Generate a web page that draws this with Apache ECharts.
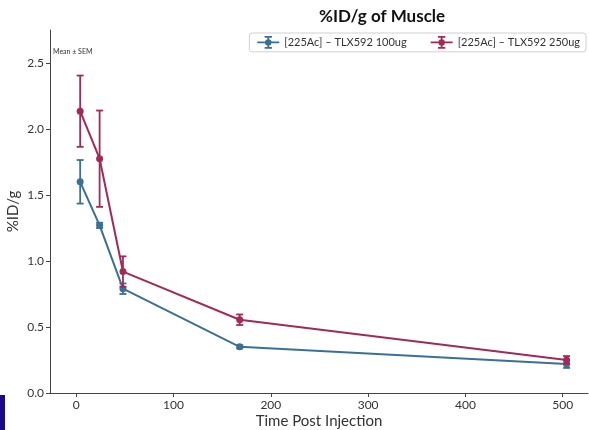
<!DOCTYPE html>
<html>
<head>
<meta charset="utf-8">
<script src="https://cdn.jsdelivr.net/npm/echarts@6/dist/echarts.min.js"></script>
<style>html,body{margin:0;padding:0;background:#fff;}#c{width:589px;height:430px;}</style>
</head>
<body>
<div id="c"></div>
<script>
var timePoints = [4, 24, 48, 168, 504];
var mean100 = [1.60, 1.27, 0.79, 0.35, 0.22];
var sem100 = [0.165, 0.02, 0.04, 0.012, 0.03];
var mean250 = [2.135, 1.775, 0.92, 0.555, 0.25];
var sem250 = [0.27, 0.365, 0.115, 0.04, 0.03];
var xTicks = [0, 100, 200, 300, 400, 500];
var yTicks = [0, 0.5, 1.0, 1.5, 2.0, 2.5];
var seriesNames = ['[225Ac] \u2013 TLX592 100ug', '[225Ac] \u2013 TLX592 250ug'];
var titleText = '%ID/g of Muscle';
var noteText = 'Mean \u00b1 SEM';

var FONT = 'Lato';
var C1 = '#3b7092', C2 = '#a02a58';

function pts(means) { return timePoints.map(function (t, i) { return [t, means[i]]; }); }
function errs(means, sems) { return timePoints.map(function (t, i) { return [t, means[i] - sems[i], means[i] + sems[i]]; }); }

function errRender(color) {
  return function (params, api) {
    var lo = api.coord([api.value(0), api.value(1)]);
    var hi = api.coord([api.value(0), api.value(2)]);
    var w = 3.5;
    var st = { stroke: color, lineWidth: 1.8 };
    return { type: 'group', children: [
      { type: 'line', shape: { x1: lo[0], y1: lo[1], x2: hi[0], y2: hi[1] }, style: st },
      { type: 'line', shape: { x1: lo[0] - w, y1: lo[1], x2: lo[0] + w, y2: lo[1] }, style: st },
      { type: 'line', shape: { x1: hi[0] - w, y1: hi[1], x2: hi[0] + w, y2: hi[1] }, style: st }
    ]};
  };
}

var icon = 'path://M0,9h24v2h-24z M11,3h2v14h-2z M8,3h8v2h-8z M8,15h8v2h-8z M8.5,10a3.5,3.5 0 1,1 7,0a3.5,3.5 0 1,1 -7,0z';

var chart = echarts.init(document.getElementById('c'), null, { renderer: 'canvas' });
chart.setOption({
  animation: false,
  backgroundColor: '#fff',
  textStyle: { fontFamily: FONT },
  grid: { left: 50, right: 1, top: 30, bottom: 37, containLabel: false, outerBoundsMode: 'none' },
  legend: {
    right: 3, top: 33,
    data: seriesNames,
    icon: icon,
    itemWidth: 22, itemHeight: 13, itemGap: 24,
    padding: [3, 6, 3, 8],
    backgroundColor: '#fff', borderColor: '#d0d0d0', borderWidth: 1, borderRadius: 3,
    textStyle: { fontFamily: FONT, fontSize: 11, color: '#333' }
  },
  xAxis: {
    type: 'value', min: -27, max: 526,
    name: 'Time Post Injection', nameLocation: 'middle', nameGap: 21, nameMoveOverlap: false,
    nameTextStyle: { fontFamily: FONT, fontSize: 15, color: '#333' },
    axisLine: { show: true, onZero: false, lineStyle: { color: '#444', width: 1 } },
    axisTick: { show: true, length: 4, lineStyle: { color: '#444' }, customValues: xTicks },
    axisLabel: { fontSize: 12, color: '#333', margin: 6, customValues: xTicks },
    splitLine: { show: false }
  },
  yAxis: {
    type: 'value', min: 0, max: 2.75,
    name: '%ID/g', nameLocation: 'middle', nameGap: 29, nameMoveOverlap: false,
    nameTextStyle: { fontFamily: FONT, fontSize: 15, color: '#333' },
    axisLine: { show: true, onZero: false, lineStyle: { color: '#444', width: 1 } },
    axisTick: { show: true, length: 4, lineStyle: { color: '#444' }, customValues: yTicks },
    axisLabel: { fontSize: 12, color: '#333', margin: 6, customValues: yTicks, formatter: function (v) { return v.toFixed(1); } },
    splitLine: { show: false }
  },
  series: [
    { type: 'custom', name: seriesNames[0] + ' err', data: errs(mean100, sem100), renderItem: errRender(C1), z: 3, encode: { x: 0, y: [1, 2] } },
    { type: 'line', name: seriesNames[0], data: pts(mean100), color: C1, symbol: 'circle', symbolSize: 7,
      lineStyle: { width: 2, color: C1 }, itemStyle: { color: C1 }, z: 3 },
    { type: 'custom', name: seriesNames[1] + ' err', data: errs(mean250, sem250), renderItem: errRender(C2), z: 4, encode: { x: 0, y: [1, 2] } },
    { type: 'line', name: seriesNames[1], data: pts(mean250), color: C2, symbol: 'circle', symbolSize: 7,
      lineStyle: { width: 2, color: C2 }, itemStyle: { color: C2 }, z: 4 }
  ],
  graphic: [
    { type: 'text', left: 319, top: 8, style: { text: titleText, fontFamily: FONT, fontSize: 17, fontWeight: 'bold', fill: '#111', textAlign: 'center' } },
    { type: 'text', left: 53, top: 48, style: { text: noteText, fontFamily: FONT, fontSize: 7, fill: '#333' } },
    { type: 'rect', left: 0, top: 395, shape: { width: 5, height: 35 }, style: { fill: '#1a0a8c' } }
  ]
});
</script>
</body>
</html>
